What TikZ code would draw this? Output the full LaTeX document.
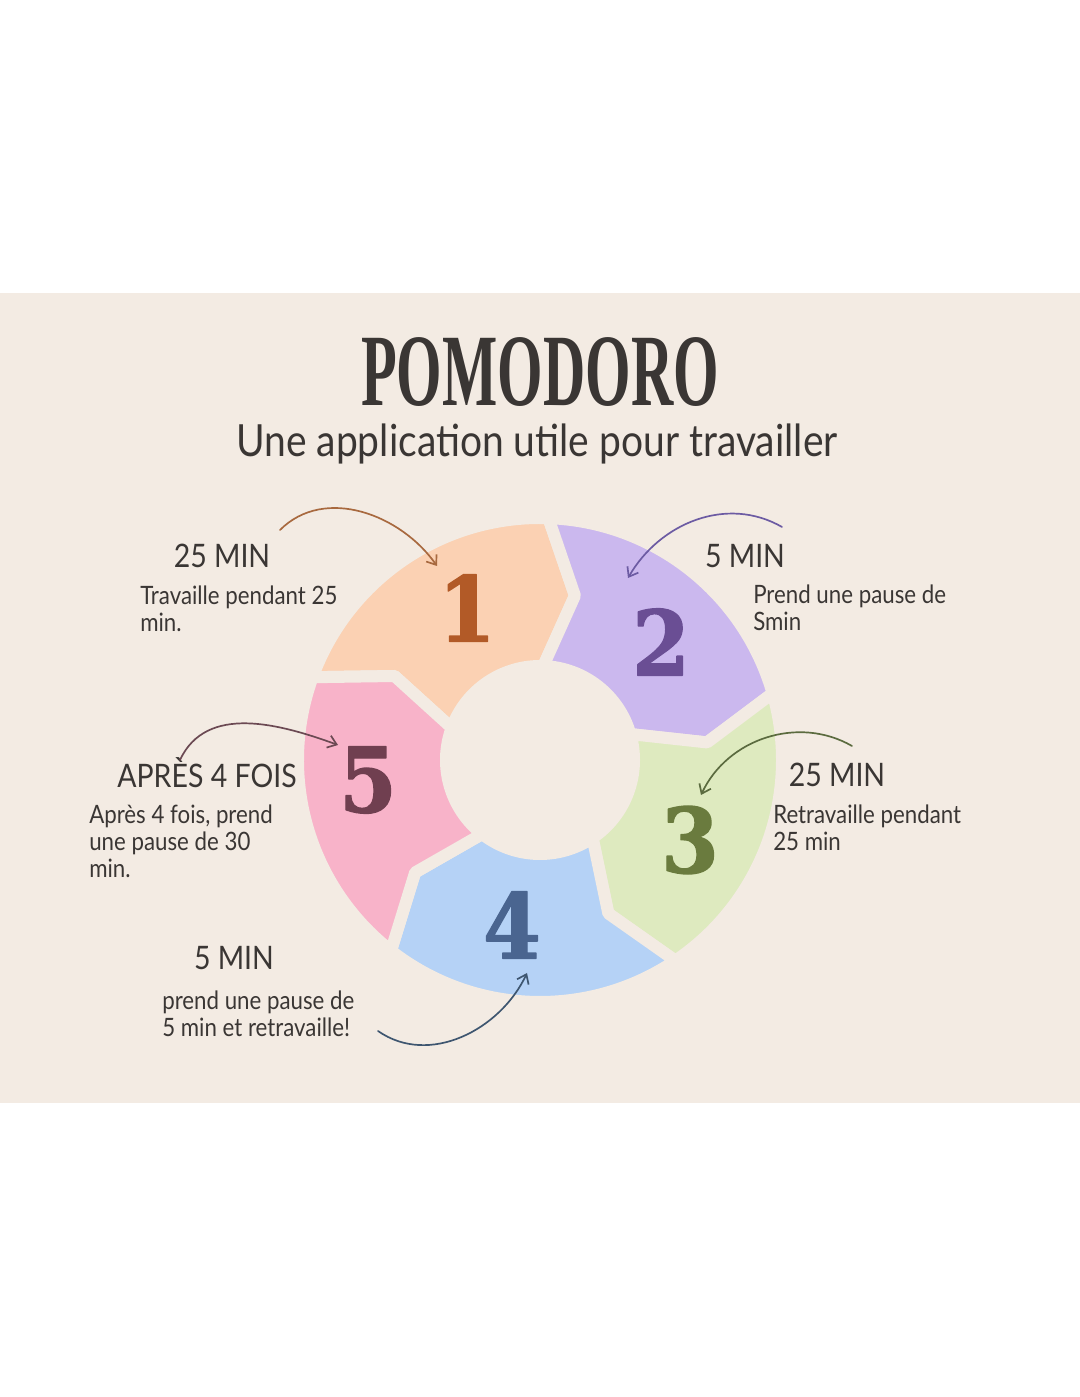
\documentclass[tikz,border=0pt]{standalone}
\usepackage{fontspec}
\usetikzlibrary{arrows.meta,calc}
\newfontfamily\handfont[FakeStretch=0.88]{Lato}
\newfontfamily\titlefont[FakeStretch=0.57]{Liberation Serif}
\newfontfamily\numfont[FakeBold=1.5,FakeStretch=0.92]{DejaVu Serif}
\definecolor{bg}{HTML}{F3EBE3}
\definecolor{ink}{HTML}{3A3634}
\definecolor{seg1}{HTML}{FBD1B3}
\definecolor{seg2}{HTML}{CBB8EE}
\definecolor{seg3}{HTML}{DEEABF}
\definecolor{seg4}{HTML}{B5D2F6}
\definecolor{seg5}{HTML}{F8B3C9}
\definecolor{num1}{HTML}{B25A27}
\definecolor{num2}{HTML}{6A4E94}
\definecolor{num3}{HTML}{6A7B3E}
\definecolor{num4}{HTML}{4A6590}
\definecolor{num5}{HTML}{703F50}
\definecolor{arr1}{HTML}{A8693F}
\definecolor{arr2}{HTML}{6C5BA3}
\definecolor{arr3}{HTML}{5B6B3F}
\definecolor{arr4}{HTML}{3E5670}
\definecolor{arr5}{HTML}{6B4953}
\tikzset{
	head/.style={font=\handfont\fontsize{23}{26}\selectfont, text=ink, inner sep=0pt, anchor=base},
	body/.style={font=\handfont\fontsize{18}{19}\selectfont, text=ink, align=left, inner sep=0pt, anchor=north west},
	num/.style={font=\numfont\bfseries\fontsize{64}{64}\selectfont, inner sep=0pt},
	curve/.style={->, line width=1.2pt, draw=#1},
}
\begin{document}
\begin{tikzpicture}[x=0.025cm, y=0.025cm, line join=round, line cap=round, >={Straight Barb[length=6pt,width=9pt]}]
		\useasboundingbox (0,0) rectangle (1080,1397);
		\fill[white] (0,0) rectangle (1080,1397);
		\fill[bg] (0,294) rectangle (1080,1104);
		\coordinate (c) at (540,637);
		% ring of five arrows
		\foreach \col [count=\k from 0] in {seg1,seg2,seg3,seg4,seg5}{
			\pgfmathsetmacro\a{160-72*\k}
			\pgfmathsetmacro\b{\a-72}
			\filldraw[fill=\col, draw=bg, line width=0.3cm] ($(c)+(\a:242)$) arc[start angle=\a, end angle=\b, radius=242]
				-- ($(c)+(\b-10:168)$) -- ($(c)+(\b:94)$) arc[start angle=\b, end angle=\a, radius=94]
				-- ($(c)+(\a-10:168)$) -- cycle;
		}
		\node[num, text=num1] (n1) at (467,789) {1};
		\node[num, text=num2] (n2) at (661,755) {2};
		\node[num, text=num3] (n3) at (690,557) {3};
		\node[num, text=num4] (n4) at (512,472) {4};
		\node[num, text=num5] (n5) at (368,617) {5};
		% title
		\node[inner sep=0pt, anchor=base, text=ink, font=\titlefont\bfseries\fontsize{73}{73}\selectfont] (title) at (540,991) {POMODORO};
		\node[inner sep=0pt, anchor=base, text=ink, font=\handfont\fontsize{31.5}{34}\selectfont] (sub) at (537,940) {Une application utile pour travailler};
		% labels
		\node[head] (h1) at (222,829) {25 MIN};
		\node[body] (t1) at (140,811) {Travaille pendant 25\\min.};
		\node[head] (h2) at (745,829) {5 MIN};
		\node[body] (t2) at (753,812) {Prend une pause de\\Smin};
		\node[head] (h3) at (837,610) {25 MIN};
		\node[body] (t3) at (773,592) {Retravaille pendant\\25 min};
		\node[head] (h4) at (234,427) {5 MIN};
		\node[body] (t4) at (162,406) {prend une pause de\\5 min et retravaille!};
		\node[head] (h5) at (207,609) {APRÈS 4 FOIS};
		\node[body] (t5) at (89,592) {Après 4 fois, prend\\une pause de 30\\min.};
		% curved arrows
		\coordinate (s1) at (280,867); \coordinate (e1) at (437,831);
		\coordinate (s2) at (782,870); \coordinate (e2) at (628,819);
		\coordinate (s3) at (852,651); \coordinate (e3) at (701,602);
		\coordinate (s4) at (378,366); \coordinate (e4) at (527,424);
		\coordinate (s5) at (180,637); \coordinate (e5) at (338,652);
		\draw[curve=arr1] (s1) to[out=45,in=125] (e1);
		\draw[curve=arr2] (s2) to[out=150,in=60] (e2);
		\draw[curve=arr3] (s3) to[out=150,in=65] (e3);
		\draw[curve=arr4] (s4) to[out=-35,in=-115] (e4);
		\draw[curve=arr5] (s5) to[out=65,in=160] (e5);
\end{tikzpicture}
\end{document}
